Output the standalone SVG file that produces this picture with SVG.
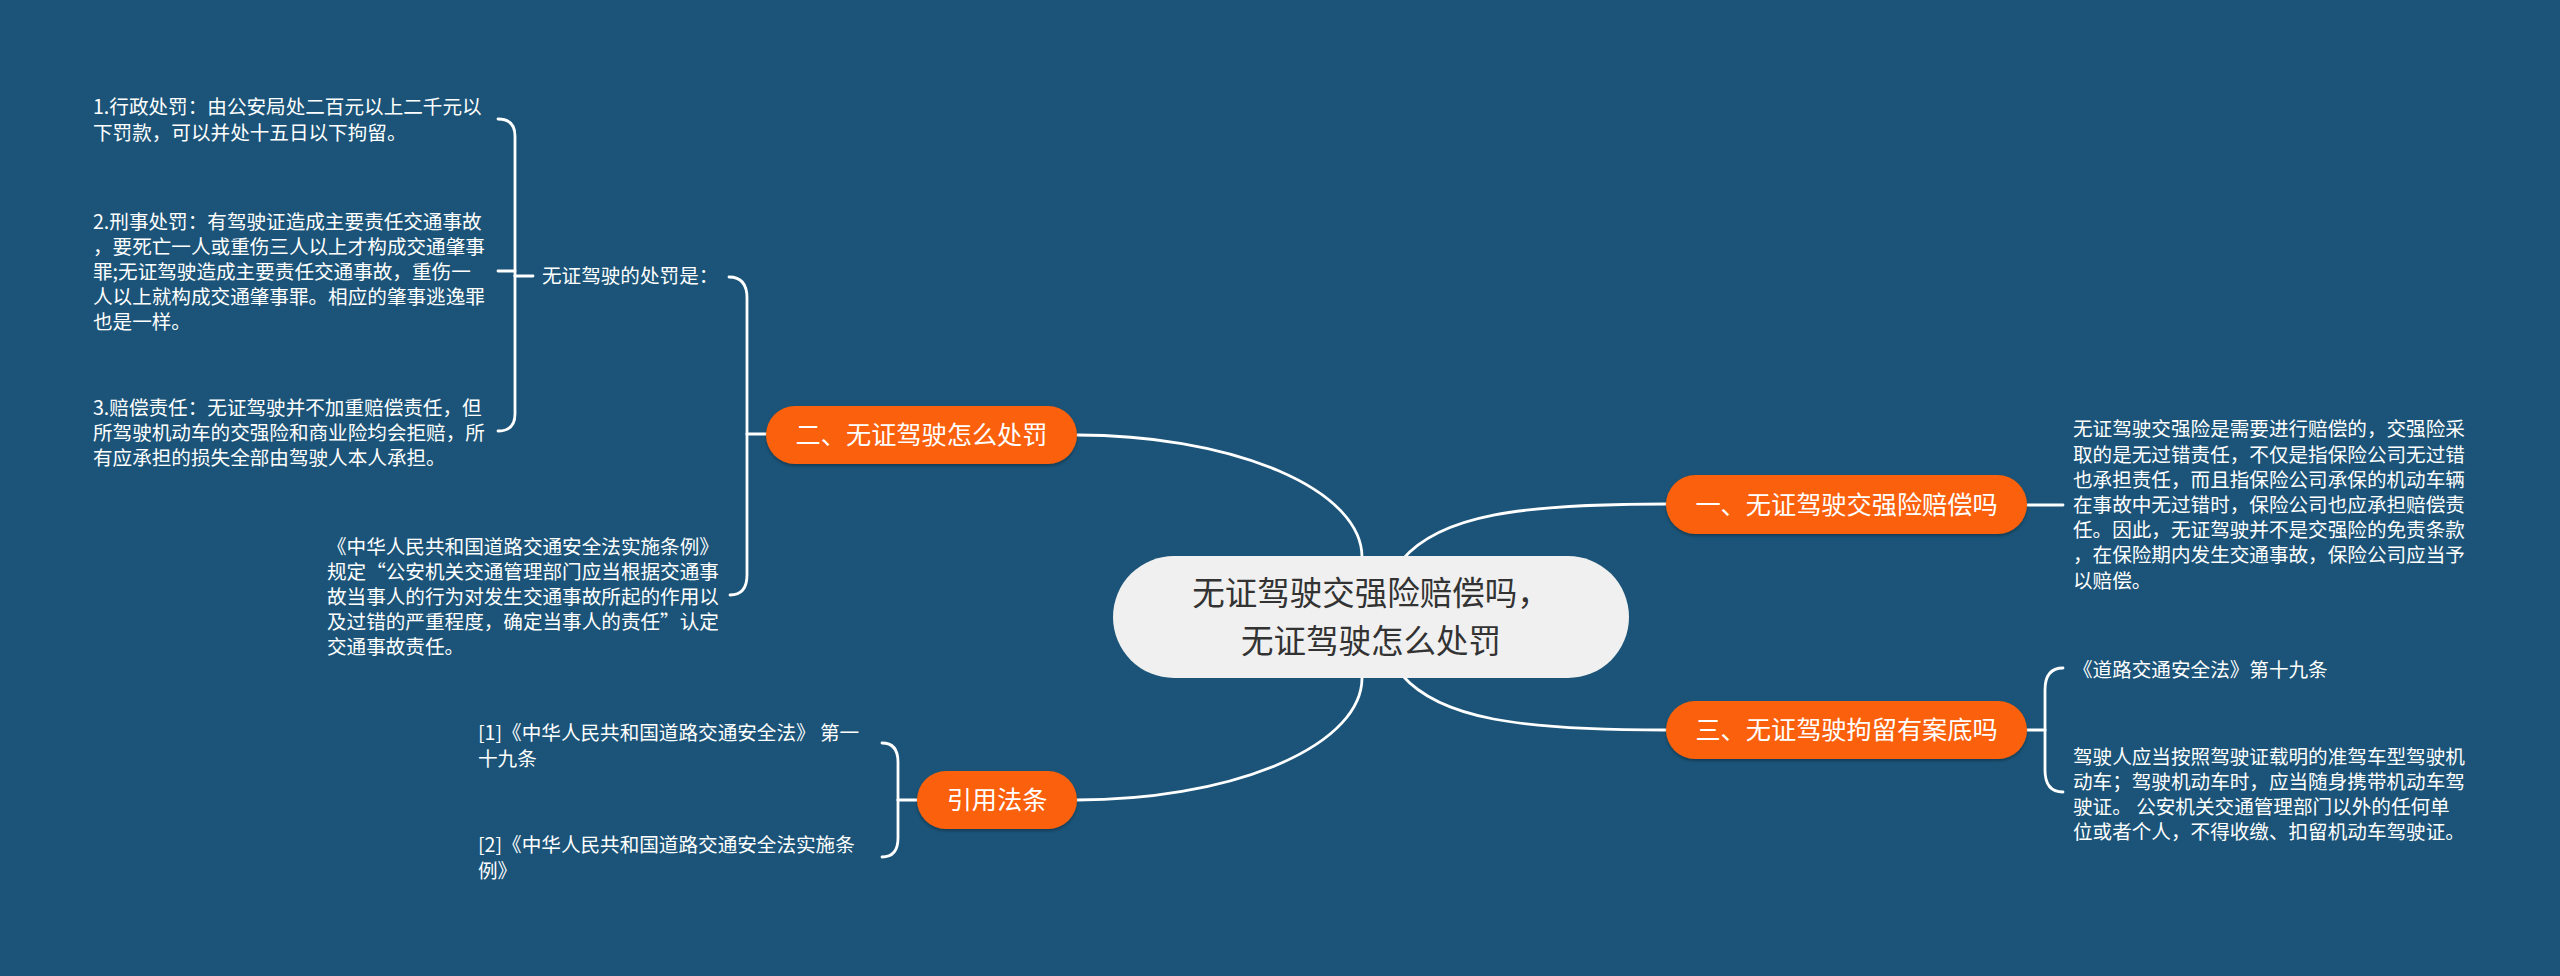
<svg xmlns="http://www.w3.org/2000/svg" width="2560" height="976" viewBox="0 0 2560 976">
<style>
.bg{fill:#1b5478}
.conn{fill:none;stroke:#ffffff;stroke-width:2.8;stroke-linecap:round}
.main{fill:#f0f0f0}
.mainT{font-family:"Noto Sans CJK SC","Microsoft YaHei",sans-serif;font-size:32.5px;fill:#333333;text-anchor:middle}
.br{fill:#fb6108}
.brT{font-family:"Noto Sans CJK SC","Microsoft YaHei",sans-serif;font-size:25.2px;fill:#ffffff;text-anchor:middle}
.leaf{font-family:"Noto Sans CJK SC","Microsoft YaHei",sans-serif;font-size:19.6px;fill:#ffffff}
</style>
<defs>
<filter id="sh" x="-10%" y="-20%" width="120%" height="150%">
<feDropShadow dx="0" dy="2" stdDeviation="1.5" flood-color="#000000" flood-opacity="0.3"/>
</filter>
</defs>
<rect class="bg" x="0" y="0" width="2560" height="976"/>

<g id="connectors">
<path class="conn" d="M1077,435 A285,122 0 0 1 1362,557"/>
<path class="conn" d="M1402,560 C1440,515 1520,504 1666,504"/>
<path class="conn" d="M1402,675 C1440,719 1520,730 1666,730"/>
<path class="conn" d="M1362,678 A285,122 0 0 1 1077,800"/>
<path class="conn" d="M766,434 L747,434"/>
<path class="conn" d="M747,434 L747,298 Q747,277 729,277"/>
<path class="conn" d="M747,434 L747,575 Q747,595 730,595"/>
<path class="conn" d="M533,276 L515,276"/>
<path class="conn" d="M515,276 L515,136 Q515,119 498,119"/>
<path class="conn" d="M515,276 L515,414 Q515,431 498,431"/>
<path class="conn" d="M515,271 L498,271"/>
<path class="conn" d="M2027,505 L2063,505"/>
<path class="conn" d="M2027,730 L2045,730"/>
<path class="conn" d="M2045,730 L2045,690 Q2045,668 2063,668"/>
<path class="conn" d="M2045,730 L2045,770 Q2045,792 2063,792"/>
<path class="conn" d="M917,800 L898,800"/>
<path class="conn" d="M898,800 L898,762 Q898,743 882,743"/>
<path class="conn" d="M898,800 L898,838 Q898,857 882,857"/>
</g>

<g id="root">
<rect class="main" x="1113" y="556" width="516" height="122" rx="61"/>
<text class="mainT" x="1371" y="605">无证驾驶交强险赔偿吗，</text>
<text class="mainT" x="1371" y="652.5">无证驾驶怎么处罚</text>
</g>

<g id="b1">
<rect class="br" x="1666" y="475" width="361" height="59" rx="29.5" filter="url(#sh)"/>
<text class="brT" x="1846.5" y="513.5">一、无证驾驶交强险赔偿吗</text>
</g>
<g id="b2">
<rect class="br" x="766" y="406" width="311" height="58" rx="29" filter="url(#sh)"/>
<text class="brT" x="921.5" y="444">二、无证驾驶怎么处罚</text>
</g>
<g id="b3">
<rect class="br" x="1666" y="701" width="361" height="58" rx="29" filter="url(#sh)"/>
<text class="brT" x="1846.5" y="739">三、无证驾驶拘留有案底吗</text>
</g>
<g id="b4">
<rect class="br" x="917" y="771" width="160" height="58" rx="29" filter="url(#sh)"/>
<text class="brT" x="997" y="809">引用法条</text>
</g>

<g id="b1-leaf">
<text class="leaf">
<tspan x="2073" y="436.4">无证驾驶交强险是需要进行赔偿的，交强险采</tspan>
<tspan x="2073" y="461.6">取的是无过错责任，不仅是指保险公司无过错</tspan>
<tspan x="2073" y="486.8">也承担责任，而且指保险公司承保的机动车辆</tspan>
<tspan x="2073" y="512">在事故中无过错时，保险公司也应承担赔偿责</tspan>
<tspan x="2073" y="537.2">任。因此，无证驾驶并不是交强险的免责条款</tspan>
<tspan x="2073" y="562.4">，在保险期内发生交通事故，保险公司应当予</tspan>
<tspan x="2073" y="587.6">以赔偿。</tspan>
</text>
</g>

<g id="b2-sub">
<text class="leaf" x="542" y="283">无证驾驶的处罚是：</text>
</g>
<g id="b2-sub-1">
<text class="leaf">
<tspan x="93" y="114.4">1.行政处罚：由公安局处二百元以上二千元以</tspan>
<tspan x="93" y="139.6">下罚款，可以并处十五日以下拘留。</tspan>
</text>
</g>
<g id="b2-sub-2">
<text class="leaf">
<tspan x="93" y="228.6">2.刑事处罚：有驾驶证造成主要责任交通事故</tspan>
<tspan x="93" y="253.8">，要死亡一人或重伤三人以上才构成交通肇事</tspan>
<tspan x="93" y="279">罪;无证驾驶造成主要责任交通事故，重伤一</tspan>
<tspan x="93" y="304.2">人以上就构成交通肇事罪。相应的肇事逃逸罪</tspan>
<tspan x="93" y="329.4">也是一样。</tspan>
</text>
</g>
<g id="b2-sub-3">
<text class="leaf">
<tspan x="93" y="414.8">3.赔偿责任：无证驾驶并不加重赔偿责任，但</tspan>
<tspan x="93" y="440">所驾驶机动车的交强险和商业险均会拒赔，所</tspan>
<tspan x="93" y="465.2">有应承担的损失全部由驾驶人本人承担。</tspan>
</text>
</g>
<g id="b2-law">
<text class="leaf">
<tspan x="327" y="553.6">《中华人民共和国道路交通安全法实施条例》</tspan>
<tspan x="327" y="578.8">规定“公安机关交通管理部门应当根据交通事</tspan>
<tspan x="327" y="604">故当事人的行为对发生交通事故所起的作用以</tspan>
<tspan x="327" y="629.2">及过错的严重程度，确定当事人的责任”认定</tspan>
<tspan x="327" y="654.4">交通事故责任。</tspan>
</text>
</g>

<g id="b3-leaf-1">
<text class="leaf" x="2073" y="677">《道路交通安全法》第十九条</text>
</g>
<g id="b3-leaf-2">
<text class="leaf">
<tspan x="2073" y="763.7">驾驶人应当按照驾驶证载明的准驾车型驾驶机</tspan>
<tspan x="2073" y="788.9">动车；驾驶机动车时，应当随身携带机动车驾</tspan>
<tspan x="2073" y="814.1">驶证。 公安机关交通管理部门以外的任何单</tspan>
<tspan x="2073" y="839.3">位或者个人，不得收缴、扣留机动车驾驶证。</tspan>
</text>
</g>

<g id="b4-leaf-1">
<text class="leaf">
<tspan x="478" y="740.4">[1]《中华人民共和国道路交通安全法》 第一</tspan>
<tspan x="478" y="765.6">十九条</tspan>
</text>
</g>
<g id="b4-leaf-2">
<text class="leaf">
<tspan x="478" y="852.4">[2]《中华人民共和国道路交通安全法实施条</tspan>
<tspan x="478" y="877.6">例》</tspan>
</text>
</g>
</svg>
